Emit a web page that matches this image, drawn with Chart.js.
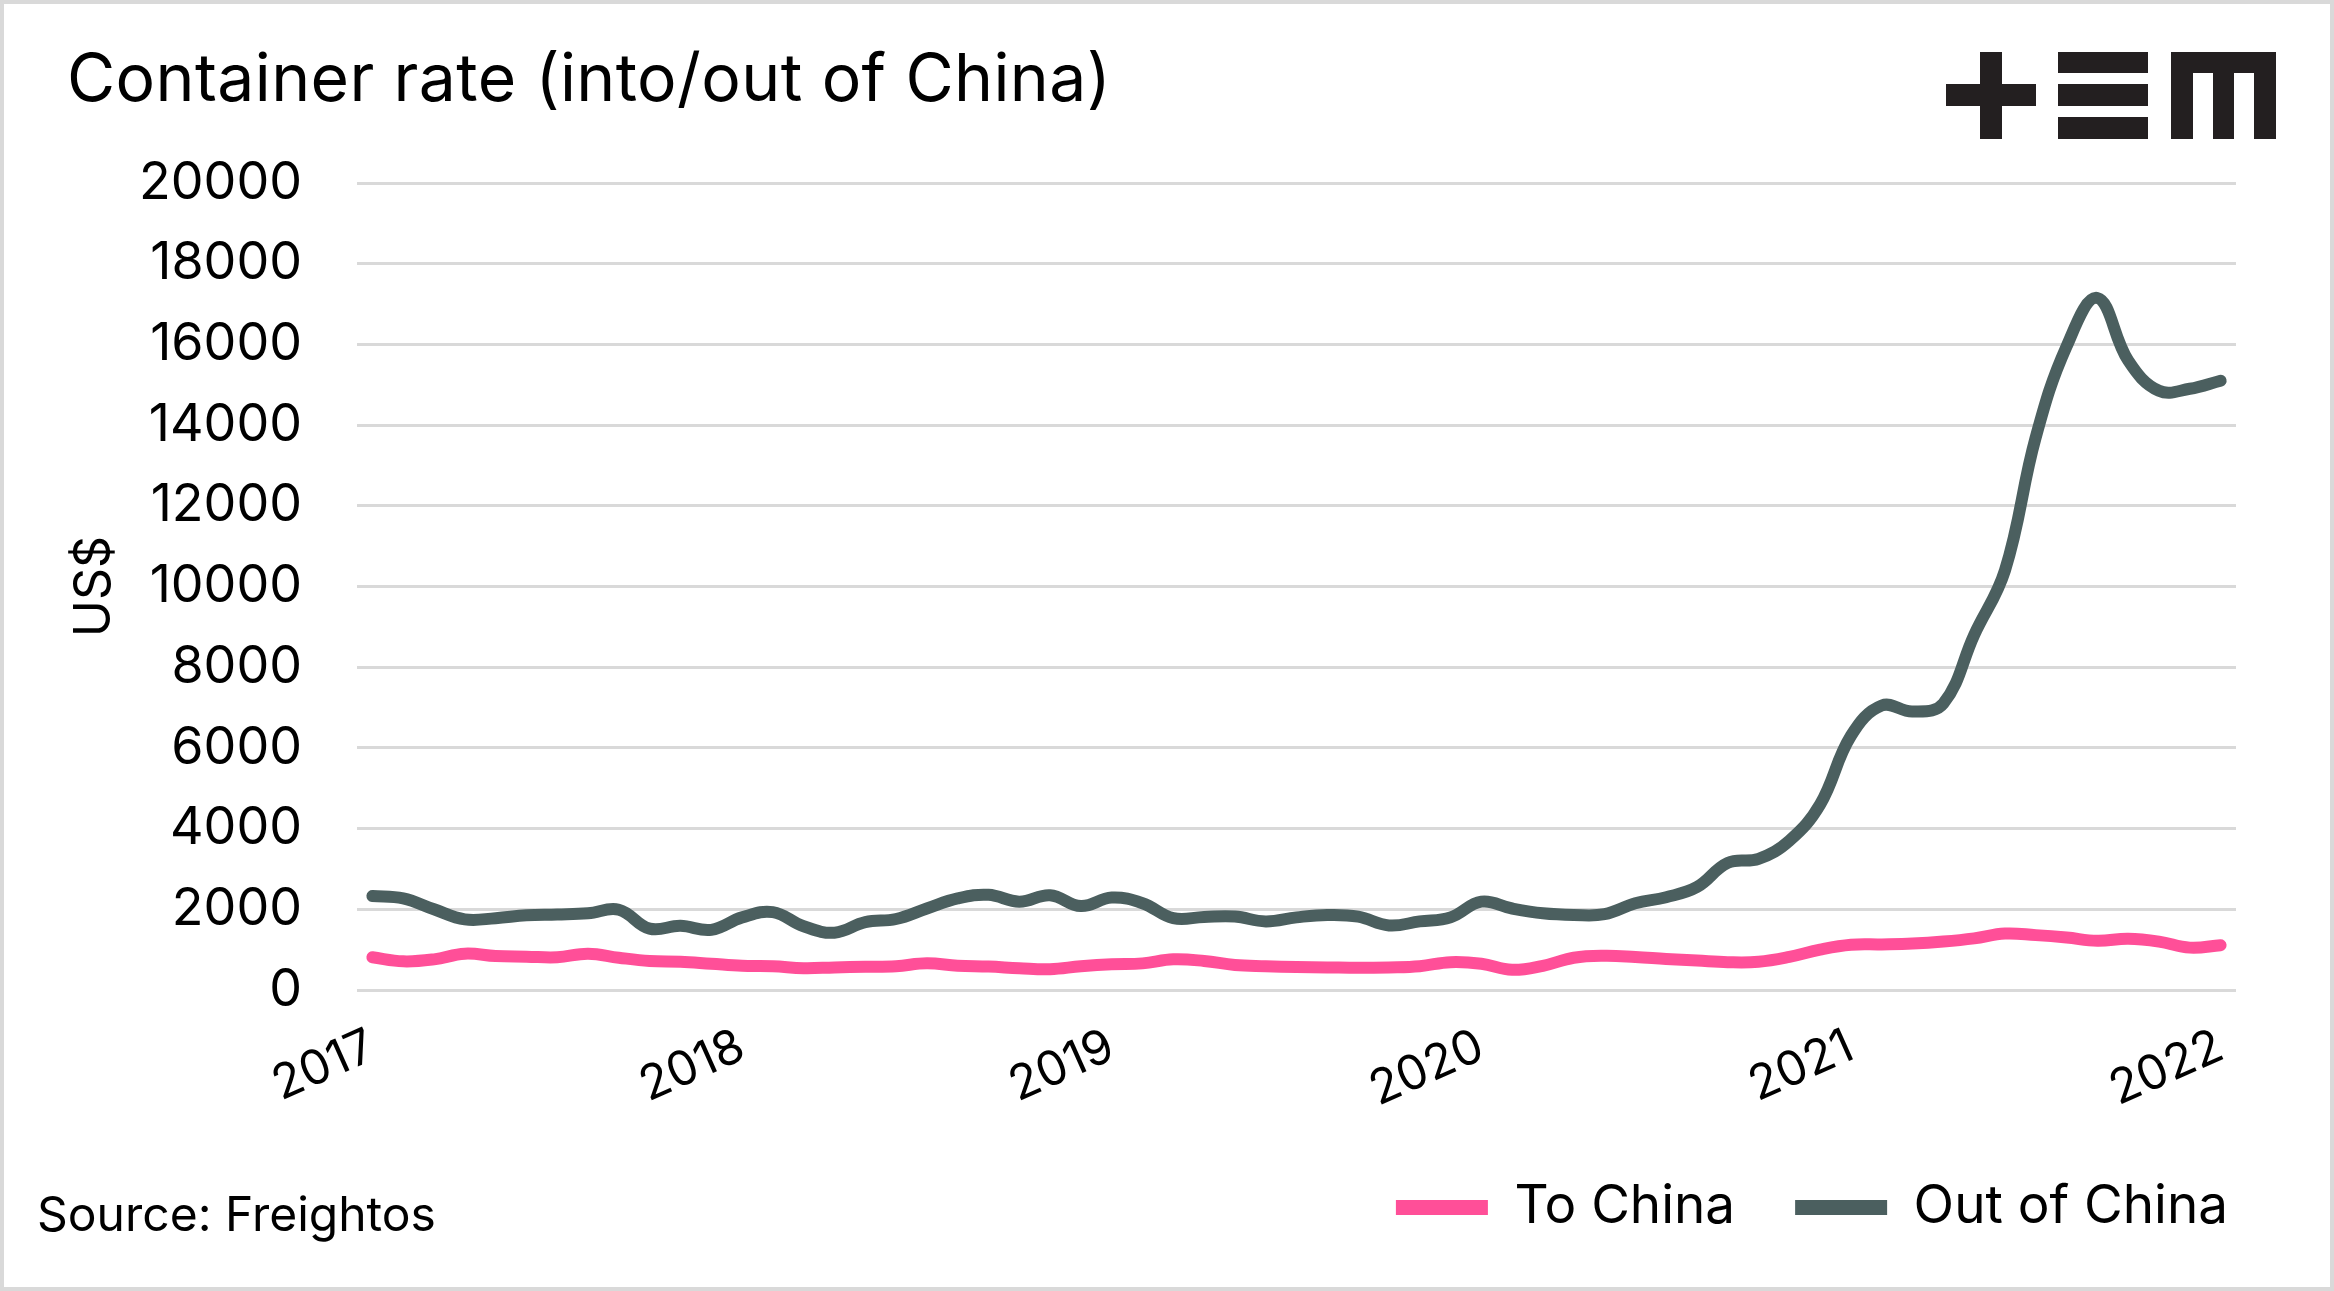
<!DOCTYPE html>
<html>
<head>
<meta charset="utf-8">
<title>Container rate (into/out of China)</title>
<script src="https://cdn.jsdelivr.net/npm/chart.js@4.4.1/dist/chart.umd.min.js"></script>
<style>
  html, body { margin: 0; padding: 0; background: #fff; }
  canvas { display: block; }
</style>
</head>
<body>
<canvas id="rates" width="2334" height="1291"></canvas>
<script>
'use strict';

// monthly points, Jan 2017 .. Jan 2022
const months = [
    '2017-01', '2017-02', '2017-03', '2017-04', '2017-05', '2017-06', '2017-07', '2017-08', '2017-09', '2017-10', '2017-11', '2017-12',
    '2018-01', '2018-02', '2018-03', '2018-04', '2018-05', '2018-06', '2018-07', '2018-08', '2018-09', '2018-10', '2018-11', '2018-12',
    '2019-01', '2019-02', '2019-03', '2019-04', '2019-05', '2019-06', '2019-07', '2019-08', '2019-09', '2019-10', '2019-11', '2019-12',
    '2020-01', '2020-02', '2020-03', '2020-04', '2020-05', '2020-06', '2020-07', '2020-08', '2020-09', '2020-10', '2020-11', '2020-12',
    '2021-01', '2021-02', '2021-03', '2021-04', '2021-05', '2021-06', '2021-07', '2021-08', '2021-09', '2021-10', '2021-11', '2021-12',
    '2022-01'
];

// US$ per container
const toChina = [
    810, 710, 760, 900, 840, 826, 810, 900, 800, 720, 700, 650,
    600, 590, 540, 560, 575, 590, 660, 600, 580, 540, 515, 590,
    640, 660, 760, 720, 620, 590, 570, 560, 550, 560, 590, 690,
    650, 500, 600, 800, 850, 820, 770, 730, 690, 700, 820, 1000,
    1120, 1130, 1150, 1200, 1280, 1400, 1360, 1300, 1220, 1270, 1200, 1050,
    1110
];

const outOfChina = [
    2330, 2270, 2000, 1750, 1780, 1850, 1870, 1900, 1990, 1520, 1590, 1490,
    1800, 1930, 1580, 1420, 1680, 1760, 2020, 2270, 2360, 2190, 2350, 2080,
    2290, 2150, 1780, 1810, 1820, 1700, 1800, 1860, 1820, 1600, 1700, 1800,
    2190, 2020, 1900, 1860, 1880, 2150, 2300, 2550, 3150, 3250, 3700, 4600,
    6300, 7050, 6900, 7100, 8800, 10400, 13700, 15950, 17150, 15600, 14850, 14900,
    15100
];

const yearLabels = ['2017', '2018', '2019', '2020', '2021', '2022'];

const FONT = 'Inter';

// title, source, logo and frame
const decor = {
    id: 'decor',
    beforeDraw(chart) {
        const ctx = chart.ctx;
        ctx.save();
        ctx.fillStyle = '#fff';
        ctx.fillRect(0, 0, chart.width, chart.height);
        ctx.strokeStyle = '#d9d9d9';
        ctx.lineWidth = 4;
        ctx.strokeRect(2, 2, chart.width - 4, chart.height - 4);
        ctx.restore();
    },
    afterDraw(chart) {
        const ctx = chart.ctx;
        ctx.save();
        ctx.fillStyle = '#000';
        ctx.textBaseline = 'alphabetic';
        ctx.textAlign = 'left';
        ctx.font = '66px ' + FONT;
        ctx.letterSpacing = '0.4px';
        ctx.fillText('Container rate (into/out of China)', 67, 101);
        ctx.letterSpacing = '0px';
        ctx.font = '48px ' + FONT;
        ctx.fillText('Source: Freightos', 37, 1231);

        // logo
        ctx.fillStyle = '#231f20';
        ctx.fillRect(1946, 84, 90, 22);
        ctx.fillRect(1980, 52, 22, 87);
        ctx.fillRect(2058, 52, 90, 21);
        ctx.fillRect(2058, 84, 90, 22);
        ctx.fillRect(2058, 117, 90, 22);
        ctx.fillRect(2171, 52, 105, 21);
        ctx.fillRect(2171, 52, 22, 87);
        ctx.fillRect(2213, 52, 21, 87);
        ctx.fillRect(2254, 52, 22, 87);
        ctx.restore();
    }
};

new Chart(document.getElementById('rates'), {
    type: 'line',
    data: {
        labels: months,
        datasets: [
            {
                label: 'To China',
                data: toChina,
                borderColor: '#ff4f98',
                backgroundColor: '#ff4f98',
                borderWidth: 12,
                borderCapStyle: 'round',
                borderJoinStyle: 'round',
                pointRadius: 0,
                tension: 0.4,
                fill: false
            },
            {
                label: 'Out of China',
                data: outOfChina,
                borderColor: '#4b5f5f',
                backgroundColor: '#4b5f5f',
                borderWidth: 12,
                borderCapStyle: 'round',
                borderJoinStyle: 'round',
                pointRadius: 0,
                tension: 0.4,
                fill: false
            }
        ]
    },
    options: {
        responsive: false,
        animation: false,
        devicePixelRatio: 1,
        layout: {
            padding: {top: 183, right: 46, bottom: 47, left: 0}
        },
        plugins: {
            title: {display: false},
            tooltip: {enabled: false},
            legend: {
                position: 'bottom',
                align: 'end',
                labels: {
                    usePointStyle: true,
                    pointStyle: 'line',
                    pointStyleWidth: 92,
                    padding: 60,
                    color: '#000',
                    font: {family: FONT, size: 53},
                    generateLabels: function (chart) {
                        let items = Chart.defaults.plugins.legend.labels.generateLabels(chart);
                        items.forEach(function (item) {
                            item.lineWidth = 15;
                        });
                        return items;
                    }
                }
            }
        },
        scales: {
            x: {
                type: 'category',
                offset: true,
                grid: {display: false},
                border: {display: false},
                ticks: {
                    autoSkip: false,
                    minRotation: 24,
                    maxRotation: 24,
                    padding: 20,
                    color: '#000',
                    font: {family: FONT, size: 48},
                    callback: function (value) {
                        let m = months[value];
                        let y = m.slice(0, 4);
                        return m.endsWith('-01') && yearLabels.includes(y) ? y : '';
                    }
                },
                afterFit: function (axis) {
                    axis.height = 131;
                }
            },
            y: {
                min: 0,
                max: 20000,
                grid: {color: '#d9d9d9', lineWidth: 3, drawTicks: false},
                border: {display: false},
                ticks: {
                    stepSize: 2000,
                    padding: 55,
                    color: '#000',
                    font: {family: FONT, size: 52},
                    callback: function (value) {
                        return String(value);
                    }
                },
                title: {
                    display: true,
                    text: 'US$',
                    color: '#000',
                    padding: {top: 65, bottom: 0},
                    font: {family: FONT, size: 50}
                },
                afterFit: function (axis) {
                    axis.width = 357;
                }
            },
            spacer: {
                position: 'right',
                display: true,
                grid: {display: false},
                border: {display: false},
                ticks: {display: false},
                afterFit: function (axis) {
                    axis.width = 52;
                }
            }
        }
    },
    plugins: [decor]
});
</script>
</body>
</html>
